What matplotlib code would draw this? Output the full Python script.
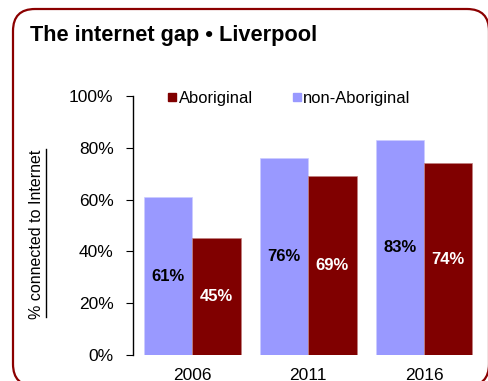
import matplotlib
matplotlib.use('Agg')
import matplotlib.pyplot as plt
from matplotlib.patches import FancyBboxPatch
from matplotlib.lines import Line2D
import numpy as np

years = ['2006', '2011', '2016']
non_aboriginal = [61, 76, 83]
aboriginal = [45, 69, 74]
ytick_values = [0, 20, 40, 60, 80, 100]
ytick_labels = ['0%', '20%', '40%', '60%', '80%', '100%']

plt.rcParams['font.family'] = ['Liberation Sans', 'DejaVu Sans']

W, H = 488, 381
fig = plt.figure(figsize=(W / 100, H / 100), dpi=100)

# rounded outer frame (in inches so the corners stay circular)
frame = FancyBboxPatch((0.13, (H - 386) / 100), (489 - 13) / 100, (386 - 9) / 100,
                       boxstyle='round,pad=0,rounding_size=0.22',
                       transform=fig.dpi_scale_trans, fill=False,
                       edgecolor='#8B0000', linewidth=1.6, clip_on=False)
fig.add_artist(frame)

fig.text(30 / W, 1 - 36 / H, 'The internet gap \u2022 Liverpool',
         fontsize=15.7, fontweight='bold', va='center', ha='left')

ax = fig.add_axes([133 / W, 26 / H, 349 / W, 259 / H])
x = np.arange(len(years))
w = 0.418
col_non = '#9999FF'
col_abo = '#800000'
b1 = ax.bar(x - w / 2, non_aboriginal, w, color=col_non, edgecolor='#ccccff', linewidth=0.5)
b2 = ax.bar(x + w / 2, aboriginal, w, color=col_abo, edgecolor='#c08080', linewidth=0.5)

ax.bar_label(b1, labels=[f'{v}%' for v in non_aboriginal], label_type='center',
             fontsize=12, fontweight='bold', color='black')
ax.bar_label(b2, labels=[f'{v}%' for v in aboriginal], label_type='center',
             fontsize=12, fontweight='bold', color='white')

ax.set_xlim(-0.509, 2.5)
ax.set_ylim(0, 100)
ax.set_xticks(x)
ax.set_xticklabels(years, fontsize=12.5)
ax.set_yticks(ytick_values)
ax.set_yticklabels(ytick_labels, fontsize=12.5)
ax.tick_params(axis='x', length=0, pad=9)
ax.tick_params(axis='y', length=5, width=0.8, pad=9)
for s in ['top', 'right', 'bottom']:
    ax.spines[s].set_visible(False)
ax.spines['left'].set_linewidth(1.0)
ax.patch.set_visible(False)

handles = [Line2D([], [], marker='s', linestyle='none', markersize=5.5,
                  markerfacecolor=col_abo, markeredgecolor=col_abo),
           Line2D([], [], marker='s', linestyle='none', markersize=5.5,
                  markerfacecolor=col_non, markeredgecolor=col_non)]
ax.legend(handles, ['Aboriginal', 'non-Aboriginal'], ncol=2, frameon=False,
          loc='center left', bbox_to_anchor=(0.1, 0.992), fontsize=11.9,
          handlelength=0.5, handletextpad=0.15, columnspacing=2.4,
          borderaxespad=0, borderpad=0)

ylab = fig.text(37 / W, 1 - 234 / H, '% connected to Internet', rotation=90,
                fontsize=11.5, ha='center', va='center')

fig.canvas.draw()
bb = ylab.get_window_extent()
ux = (bb.x1 + 1) / W
fig.add_artist(Line2D([ux, ux], [(bb.y0 + 2) / H, bb.y1 / H], color='black',
                      linewidth=1.0, transform=fig.transFigure))

fig.savefig('out.png', dpi=100)
